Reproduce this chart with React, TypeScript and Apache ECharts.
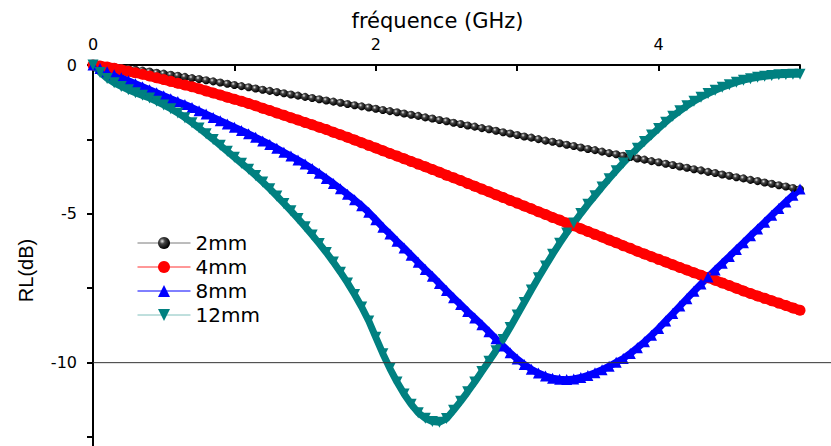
import React, { useEffect, useRef } from "react";
import * as echarts from "echarts";

// Frequency samples (GHz)
const freq = [
  0, 0.05, 0.1, 0.15, 0.2, 0.25, 0.3, 0.35, 0.4, 0.45,
  0.5, 0.55, 0.6, 0.65, 0.7, 0.75, 0.8, 0.85, 0.9, 0.95,
  1.0, 1.05, 1.1, 1.15, 1.2, 1.25, 1.3, 1.35, 1.4, 1.45,
  1.5, 1.55, 1.6, 1.65, 1.7, 1.75, 1.8, 1.85, 1.9, 1.95,
  2.0, 2.05, 2.1, 2.15, 2.2, 2.25, 2.3, 2.35, 2.4, 2.45,
  2.5, 2.55, 2.6, 2.65, 2.7, 2.75, 2.8, 2.85, 2.9, 2.95,
  3.0, 3.05, 3.1, 3.15, 3.2, 3.25, 3.3, 3.35, 3.4, 3.45,
  3.5, 3.55, 3.6, 3.65, 3.7, 3.75, 3.8, 3.85, 3.9, 3.95,
  4.0, 4.05, 4.1, 4.15, 4.2, 4.25, 4.3, 4.35, 4.4, 4.45,
  4.5, 4.55, 4.6, 4.65, 4.7, 4.75, 4.8, 4.85, 4.9, 4.95,
  5.0,
];

// RL (dB) per thickness
const rl2mm = [
  0, -0.02, -0.04, -0.07, -0.1, -0.13, -0.16, -0.19, -0.22, -0.26,
  -0.29, -0.33, -0.36, -0.4, -0.44, -0.47, -0.51, -0.55, -0.59, -0.63,
  -0.67, -0.71, -0.75, -0.79, -0.83, -0.87, -0.91, -0.95, -0.99, -1.03,
  -1.07, -1.11, -1.15, -1.19, -1.23, -1.27, -1.31, -1.35, -1.39, -1.43,
  -1.47, -1.51, -1.55, -1.59, -1.63, -1.67, -1.71, -1.76, -1.8, -1.85,
  -1.89, -1.94, -1.98, -2.03, -2.07, -2.12, -2.16, -2.21, -2.26, -2.3,
  -2.35, -2.4, -2.44, -2.49, -2.54, -2.58, -2.63, -2.68, -2.72, -2.77,
  -2.82, -2.86, -2.91, -2.96, -3.0, -3.05, -3.09, -3.14, -3.18, -3.23,
  -3.27, -3.32, -3.36, -3.41, -3.45, -3.5, -3.54, -3.59, -3.63, -3.68,
  -3.72, -3.77, -3.81, -3.86, -3.9, -3.95, -3.99, -4.04, -4.08, -4.13,
  -4.17,
];

const rl4mm = [
  0, -0.03, -0.07, -0.11, -0.16, -0.21, -0.26, -0.31, -0.37, -0.43,
  -0.49, -0.55, -0.61, -0.67, -0.73, -0.8, -0.87, -0.94, -1.01, -1.08,
  -1.15, -1.22, -1.29, -1.37, -1.45, -1.53, -1.61, -1.69, -1.77, -1.85,
  -1.93, -2.01, -2.09, -2.17, -2.26, -2.34, -2.43, -2.52, -2.61, -2.7,
  -2.79, -2.88, -2.97, -3.06, -3.15, -3.24, -3.33, -3.42, -3.51, -3.6,
  -3.7, -3.79, -3.88, -3.98, -4.07, -4.17, -4.26, -4.36, -4.45, -4.55,
  -4.64, -4.74, -4.83, -4.93, -5.02, -5.12, -5.21, -5.31, -5.4, -5.5,
  -5.59, -5.69, -5.78, -5.88, -5.97, -6.07, -6.16, -6.26, -6.35, -6.44,
  -6.53, -6.62, -6.71, -6.8, -6.89, -6.98, -7.06, -7.15, -7.23, -7.32,
  -7.41, -7.5, -7.59, -7.68, -7.76, -7.84, -7.92, -8.0, -8.08, -8.16,
  -8.24,
];

const rl8mm = [
  0, -0.12, -0.23, -0.33, -0.43, -0.53, -0.63, -0.73, -0.83, -0.93,
  -1.03, -1.13, -1.23, -1.33, -1.43, -1.54, -1.65, -1.76, -1.87, -1.98,
  -2.09, -2.2, -2.31, -2.43, -2.55, -2.67, -2.8, -2.93, -3.06, -3.19,
  -3.33, -3.48, -3.64, -3.81, -3.98, -4.16, -4.34, -4.53, -4.73, -4.95,
  -5.2, -5.45, -5.68, -5.92, -6.15, -6.39, -6.63, -6.87, -7.1, -7.34,
  -7.58, -7.82, -8.05, -8.28, -8.5, -8.73, -8.96, -9.2, -9.44, -9.67,
  -9.88, -10.06, -10.22, -10.35, -10.45, -10.52, -10.56, -10.57, -10.55, -10.5,
  -10.43, -10.34, -10.24, -10.12, -9.99, -9.86, -9.69, -9.5, -9.3, -9.08,
  -8.85, -8.6, -8.35, -8.1, -7.85, -7.6, -7.36, -7.12, -6.89, -6.66,
  -6.43, -6.2, -5.97, -5.74, -5.51, -5.28, -5.05, -4.82, -4.6, -4.38,
  -4.17,
];

const rl12mm = [
  0, -0.25, -0.45, -0.6, -0.72, -0.83, -0.93, -1.02, -1.11, -1.22,
  -1.34, -1.47, -1.61, -1.77, -1.94, -2.12, -2.31, -2.5, -2.7, -2.9,
  -3.1, -3.3, -3.5, -3.71, -3.93, -4.16, -4.4, -4.65, -4.9, -5.16,
  -5.43, -5.71, -6.0, -6.3, -6.62, -6.96, -7.32, -7.71, -8.13, -8.6,
  -9.15, -9.7, -10.2, -10.65, -11.05, -11.4, -11.68, -11.87, -11.98, -12.0,
  -11.88, -11.6, -11.3, -10.98, -10.65, -10.3, -9.95, -9.6, -9.22, -8.82,
  -8.4, -7.98, -7.56, -7.15, -6.75, -6.36, -5.99, -5.64, -5.31, -4.99,
  -4.68, -4.39, -4.1, -3.82, -3.55, -3.29, -3.04, -2.8, -2.57, -2.35,
  -2.13, -1.92, -1.72, -1.54, -1.37, -1.22, -1.08, -0.96, -0.85, -0.75,
  -0.66, -0.58, -0.51, -0.46, -0.41, -0.38, -0.35, -0.33, -0.32, -0.31,
  -0.31,
];

const seriesNames = ["2mm", "4mm", "8mm", "12mm"];
const xLabelValues = [0, 2, 4];
const xTickValues = [0, 1, 2, 3, 4, 5];
const yLabelValues = [-10, -5, 0];
const yTickValues = [-12.5, -10, -7.5, -5, -2.5, 0];
const refLevel = -10;

const FONT = "'DejaVu Sans', sans-serif";

export default function App() {
  const ref = useRef<HTMLDivElement>(null);

  useEffect(() => {
    if (!ref.current) return;
    const chart = echarts.init(ref.current, null, { renderer: "svg" });

    const pair = (vals: number[]) => freq.map((f, i) => [f, vals[i]]);

    const sphere = new echarts.graphic.RadialGradient(0.35, 0.35, 0.65, [
      { offset: 0, color: "#e8e8e8" },
      { offset: 0.35, color: "#444" },
      { offset: 1, color: "#000" },
    ]);

    chart.setOption({
      animation: false,
      backgroundColor: "#fff",
      grid: { left: 93, right: 31, top: 65, bottom: 0, containLabel: false },
      xAxis: {
        type: "value",
        position: "top",
        min: 0,
        max: 5,
        interval: 1,
        name: "fréquence (GHz)",
        nameLocation: "middle",
        nameGap: 33,
        nameTextStyle: { fontFamily: FONT, fontSize: 21, color: "#000", padding: [0, 18, 0, 0] },
        axisLine: { show: true, lineStyle: { color: "#000", width: 2 } },
        axisTick: {
          show: true,
          inside: true,
          length: 6,
          lineStyle: { color: "#000", width: 2 },
          customValues: xTickValues,
        },
        axisLabel: {
          fontFamily: FONT,
          fontSize: 16,
          color: "#000",
          margin: 13,
          customValues: xLabelValues,
        },
        splitLine: { show: false },
      },
      yAxis: {
        type: "value",
        min: -12.8,
        max: 0,
        name: "RL(dB)",
        nameLocation: "middle",
        nameGap: 57,
        nameTextStyle: {
          fontFamily: "'Liberation Sans', Arial, sans-serif",
          fontSize: 20,
          color: "#000",
          padding: [0, 30, 0, 0],
        },
        axisLine: { show: true, onZero: false, lineStyle: { color: "#000", width: 2 } },
        axisTick: {
          show: true,
          inside: false,
          length: 6,
          lineStyle: { color: "#000", width: 2 },
          customValues: yTickValues,
        },
        axisLabel: {
          fontFamily: FONT,
          fontSize: 16,
          color: "#000",
          margin: 16,
          customValues: yLabelValues,
        },
        splitLine: { show: false },
      },
      legend: {
        show: true,
        orient: "vertical",
        left: 137,
        top: 233,
        padding: 0,
        itemGap: 4,
        itemWidth: 53,
        itemHeight: 15,
        textStyle: { fontFamily: FONT, fontSize: 20, color: "#000" },
        data: [
          { name: seriesNames[0], lineStyle: { color: "#7a7a7a", width: 1 } },
          { name: seriesNames[1], lineStyle: { color: "#ff3030", width: 1 } },
          { name: seriesNames[2], lineStyle: { color: "#0000ff", width: 1 } },
          { name: seriesNames[3], lineStyle: { color: "#80c0bc", width: 1 } },
        ],
      },
      series: [
        {
          name: seriesNames[0],
          type: "line",
          data: pair(rl2mm),
          symbol: "circle",
          symbolSize: 8,
          itemStyle: { color: sphere, borderWidth: 0 },
          lineStyle: { color: "#111", width: 5 },
        },
        {
          name: seriesNames[1],
          type: "line",
          data: pair(rl4mm),
          symbol: "circle",
          symbolSize: 11,
          itemStyle: { color: "#ff0000", borderWidth: 0 },
          lineStyle: { color: "#ff0000", width: 10 },
        },
        {
          name: seriesNames[2],
          type: "line",
          data: pair(rl8mm),
          symbol: "triangle",
          symbolSize: 11,
          itemStyle: { color: "#0000ff", borderWidth: 0 },
          lineStyle: { color: "#0000ff", width: 7 },
        },
        {
          name: seriesNames[3],
          type: "line",
          data: pair(rl12mm),
          symbol: "triangle",
          symbolRotate: 180,
          symbolSize: 11,
          itemStyle: { color: "#008080", borderWidth: 0 },
          lineStyle: { color: "#008080", width: 7 },
        },
      ],
    });

    const p0 = chart.convertToPixel({ gridIndex: 0 }, [0, refLevel]) as number[];
    chart.setOption({
      graphic: [
        {
          type: "line",
          z: 100,
          shape: { x1: p0[0], y1: p0[1], x2: chart.getWidth(), y2: p0[1] },
          style: { stroke: "#333", lineWidth: 1 },
        },
      ],
    });

    return () => chart.dispose();
  }, []);

  return (
    <div
      ref={ref}
      style={{ position: "fixed", left: 0, top: 0, width: 831, height: 446 }}
    />
  );
}
